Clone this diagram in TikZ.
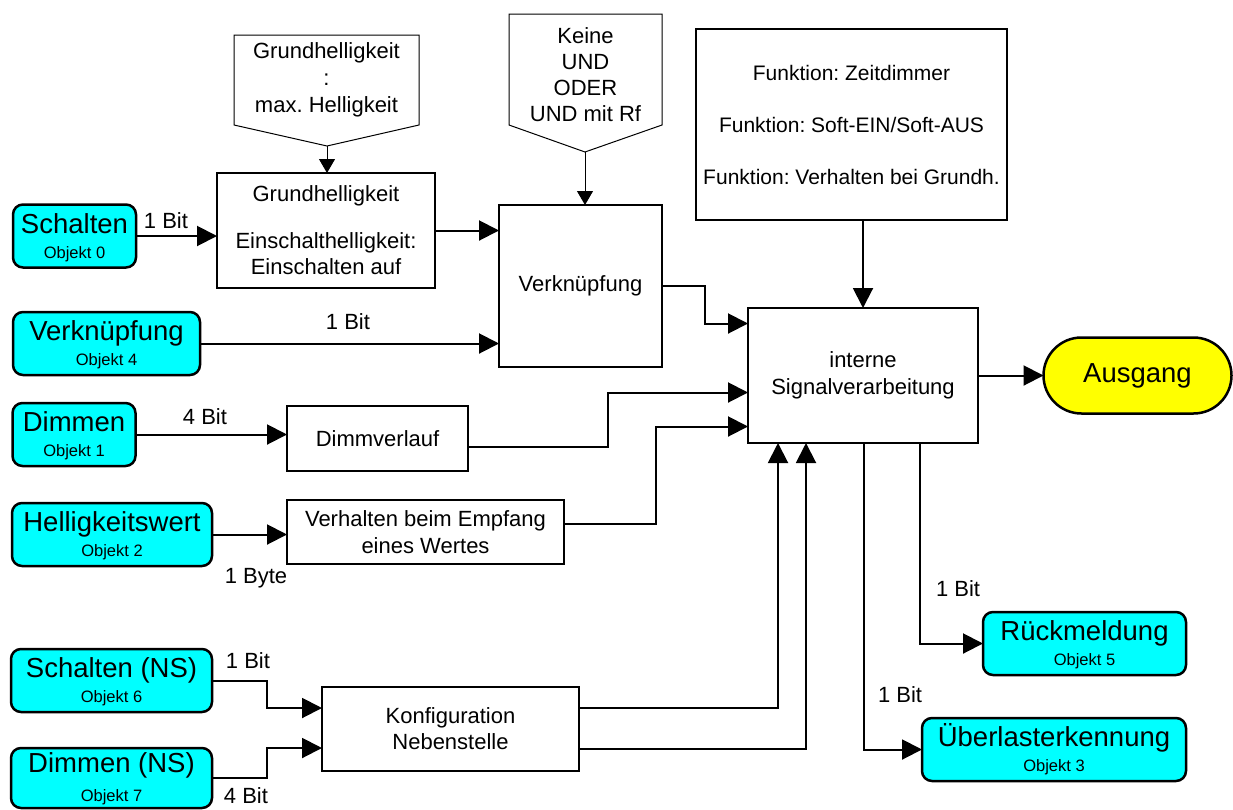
\documentclass[tikz,border=0pt]{standalone}
\usepackage{fontspec}
\setmainfont{Liberation Sans}
\usetikzlibrary{arrows.meta,calc,shapes.misc}
\definecolor{objcyan}{HTML}{00FFFF}
\definecolor{outyellow}{HTML}{FFFF00}
\frenchspacing
\tikzset{
  every node/.style={inner sep=0pt, outer sep=0pt},
  objbox/.style={draw, line width=2.5pt, fill=objcyan, rounded corners=10pt},
  blk/.style={draw, line width=2.5pt, fill=white, align=center, font=\fontsize{22}{26}\selectfont},
  conn/.style={line width=2pt, sharp corners, -{Triangle[length=20pt,width=20pt]}},
  thinconn/.style={line width=1pt, sharp corners, -{Triangle[length=14pt,width=16pt]}},
  pent/.style={draw, line width=1pt, fill=white},
  ptxt/.style={align=center, font=\fontsize{22}{27}\selectfont},
  lbl/.style={font=\fontsize{22}{26}\selectfont},
  bigtxt/.style={font=\fontsize{27.5}{30}\selectfont, anchor=base},
  smalltxt/.style={font=\fontsize{16.5}{18}\selectfont, anchor=base},
  outbox/.style={draw, line width=2.5pt, fill=outyellow, rounded rectangle, font=\fontsize{27.5}{30}\selectfont},
}
\newcommand\objnode[7]{%
  \node[objbox, minimum width=#4pt, minimum height=#5pt] (#1) at (#2,#3) {};
  \node[bigtxt] (#1-a) at ([yshift=3pt]#1.center) {#6};
  \node[smalltxt] (#1-b) at ([yshift=-22pt]#1.center) {#7};
}
\begin{document}
\begin{tikzpicture}[x=1pt,y=-1pt]
\useasboundingbox (0,0) rectangle (1233,809);

% object boxes
\objnode{schalten}{74.5}{236}{123}{63}{Schalten}{Objekt 0}
\objnode{verkobj}{106.5}{343.5}{187}{63}{Verknüpfung}{Objekt 4}
\objnode{dimmen}{74}{434.5}{123}{63}{Dimmen}{Objekt 1}
\objnode{hellwert}{112}{534.5}{200}{63}{Helligkeitswert}{Objekt 2}
\objnode{schaltenNS}{111.5}{680.5}{201}{63}{Schalten (NS)}{Objekt 6}
\node[objbox, minimum width=201pt, minimum height=60pt] (dimmenNS) at (111.5,778) {};
\node[bigtxt] (dimmenNS-a) at ([yshift=6pt]dimmenNS.center) {Dimmen (NS)};
\node[smalltxt] (dimmenNS-b) at ([yshift=-23pt]dimmenNS.center) {Objekt 7};
\objnode{rueck}{1084.5}{643.5}{203}{63}{Rückmeldung}{Objekt 5}
\objnode{ueber}{1054}{749.5}{264}{63}{Überlasterkennung}{Objekt 3}

% blocks
\node[blk, minimum width=218pt, minimum height=115pt] (grund) at (326,230.5)
  {Grundhelligkeit\\[21pt]Einschalthelligkeit:\\Einschalten auf};
\node[blk, minimum width=163pt, minimum height=162pt] (verk) at (580.5,286) {Verknüpfung};
\node[blk, minimum width=181pt, minimum height=65pt] (dimmv) at (377.5,438.5) {Dimmverlauf};
\node[blk, minimum width=277pt, minimum height=64pt, font=\fontsize{22}{27}\selectfont] (verh) at (425.5,532)
  {Verhalten beim Empfang\\eines Wertes};
\node[blk, minimum width=257pt, minimum height=84pt] (konf) at (450.5,729) {Konfiguration\\Nebenstelle};
\node[blk, minimum width=311pt, minimum height=191pt, font=\fontsize{21}{26}\selectfont] (funk) at (851.5,124.5)
  {Funktion: Zeitdimmer\\[26pt]Funktion: Soft-EIN/Soft-AUS\\[26pt]Funktion: Verhalten bei Grundh.};
\node[blk, minimum width=230pt, minimum height=135pt, font=\fontsize{22}{27}\selectfont] (signal) at (863,375.5)
  {interne\\Signalverarbeitung};
\node[outbox, minimum width=188pt, minimum height=76pt] (ausgang) at (1137.5,375.5) {Ausgang};

% pentagons
\draw[pent] (234,35) -- (419,35) -- (419,125) -- (327,146) -- (234,125) -- cycle;
\coordinate (p1tip) at (327,146);
\node[ptxt] (p1txt) at (326.5,80) {Grundhelligkeit\\:\\max. Helligkeit};
\draw[pent] (509,14) -- (662,14) -- (662,125) -- (585,152) -- (509,125) -- cycle;
\coordinate (p2tip) at (585,152);
\node[ptxt, font=\fontsize{22}{26}\selectfont] (p2txt) at (585.5,75) {Keine\\UND\\ODER\\UND mit Rf};

\draw[thinconn] (p1tip) -- (p1tip |- grund.north);
\draw[thinconn] (p2tip) -- (p2tip |- verk.north);

% connectors
\draw[conn] (schalten.east) -- (schalten.east -| grund.west);
\node[lbl] (l1) at (166,221) {1 Bit};
\draw[conn] (grund.east) -- (grund.east -| verk.west);
\draw[conn] (verkobj.east) -- (verkobj.east -| verk.west);
\node[lbl] (l2) at (348,322) {1 Bit};
\draw[conn] (signal.north |- funk.south) -- (signal.north);
\draw[conn] (verk.east) -- ++(43,0) |- ([yshift=52pt]signal.west);
\draw[conn] (signal.east) -- (signal.east -| ausgang.west);
\draw[conn] (dimmen.east) -- (dimmen.east -| dimmv.west);
\node[lbl] (l3) at (205,417) {4 Bit};
\draw[conn] ([yshift=-8pt]dimmv.east) -- (608,446.5) |- ([yshift=-17pt]signal.west);
\draw[conn] (hellwert.east) -- (hellwert.east -| verh.west);
\node[lbl] (l4) at (256,578) {1 Byte};
\draw[conn] ([yshift=8pt]verh.east) -- (656,524) |- ([yshift=-51pt]signal.west);
\draw[conn] (schaltenNS.east) -- (267,680.5) |- ([yshift=21pt]konf.west);
\node[lbl] (l5) at (248,661) {1 Bit};
\draw[conn] (dimmenNS.east) -- (267,778) |- ([yshift=-19pt]konf.west);
\node[lbl] (l6) at (246,796) {4 Bit};
\draw[conn] ([yshift=21pt]konf.east) -| ([xshift=-85pt]signal.south);
\draw[conn] ([yshift=-20pt]konf.east) -| ([xshift=-57pt]signal.south);
\draw[conn] ([xshift=1pt]signal.south) |- (ueber.west);
\draw[conn] ([xshift=57pt]signal.south) |- (rueck.west);
\node[lbl] (l7) at (958,589) {1 Bit};
\node[lbl] (l8) at (900,695) {1 Bit};
\end{tikzpicture}
\end{document}
